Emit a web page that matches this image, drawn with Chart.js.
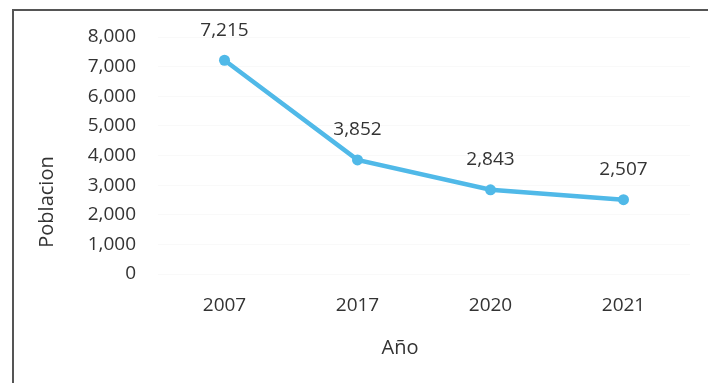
<!DOCTYPE html>
<html lang="es">
<head>
<meta charset="UTF-8">
<title>Poblacion por año</title>
<script src="https://cdn.jsdelivr.net/npm/chart.js@4.4.1/dist/chart.umd.min.js"></script>
<style>
html, body {margin:0; padding:0; background:#fff;}
body {width:708px; height:383px; overflow:hidden; position:relative;}
#frame {position:absolute; left:12px; top:9px; width:720px; height:400px; border-left:2px solid #555; border-top:2px solid #555;}
#wrap {position:absolute; left:0; top:0; width:708px; height:383px;}
</style>
</head>
<body>
<div id="frame"></div>
<div id="wrap"><canvas id="chartPob"></canvas></div>
<script>
// datos
var years = ["2007", "2017", "2020", "2021"];
var poblacion = [7215, 3852, 2843, 2507];
var yMin = 0, yMax = 8000, yStep = 1000;
var xTitle = "Año";
var yTitle = "Poblacion";

var textColor = "#333333";
var lineColor = "#50b9e8";
var fontFam = "'Open Sans', sans-serif";

function fmt(v) { return Number(v).toLocaleString("en-US"); }

// etiquetas de valor encima de cada punto y titulos de ejes
var labelsPlugin = {
  id: "labelsPlugin",
  afterDatasetsDraw: function(chart) {
    var ctx = chart.ctx;
    var meta = chart.getDatasetMeta(0);
    ctx.save();
    ctx.fillStyle = textColor;
    ctx.font = "19px " + fontFam;
    ctx.textAlign = "center";
    ctx.textBaseline = "middle";
    meta.data.forEach(function(pt, i) {
      ctx.fillText(fmt(poblacion[i]), pt.x, pt.y - 30);
    });
    var area = chart.chartArea;
    ctx.font = "20px " + fontFam;
    ctx.fillText(xTitle, area.left + 242, area.bottom + 74);
    ctx.translate(area.left - 111, area.bottom - 72);
    ctx.rotate(-Math.PI / 2);
    ctx.fillText(yTitle, 0, 0);
    ctx.restore();
  }
};

new Chart("chartPob", {
  type: "line",
  data: {
    labels: years,
    datasets: [{
      label: yTitle,
      data: poblacion,
      borderColor: lineColor,
      backgroundColor: lineColor,
      borderWidth: 4.5,
      pointRadius: 5.5,
      pointBorderWidth: 0,
      tension: 0,
      fill: false
    }]
  },
  options: {
    responsive: true,
    maintainAspectRatio: false,
    animation: false,
    layout: {padding: {left: 23, right: 18, top: 37, bottom: 0}},
    plugins: {
      legend: {display: false},
      tooltip: {enabled: false}
    },
    scales: {
      x: {
        offset: true,
        grid: {display: false, drawTicks: false},
        border: {display: false},
        ticks: {color: textColor, font: {family: fontFam, size: 19}, padding: 20, maxRotation: 0},
        afterFit: function(s) { s.height = 109; }
      },
      y: {
        min: yMin,
        max: yMax,
        grid: {color: "rgba(0,0,0,0.025)", drawTicks: false},
        border: {display: false},
        ticks: {
          stepSize: yStep,
          color: textColor,
          font: {family: fontFam, size: 19},
          padding: 22,
          callback: function(v) { return fmt(v); }
        },
        afterFit: function(s) { s.width = 135; }
      }
    }
  },
  plugins: [labelsPlugin]
});
</script>
</body>
</html>
